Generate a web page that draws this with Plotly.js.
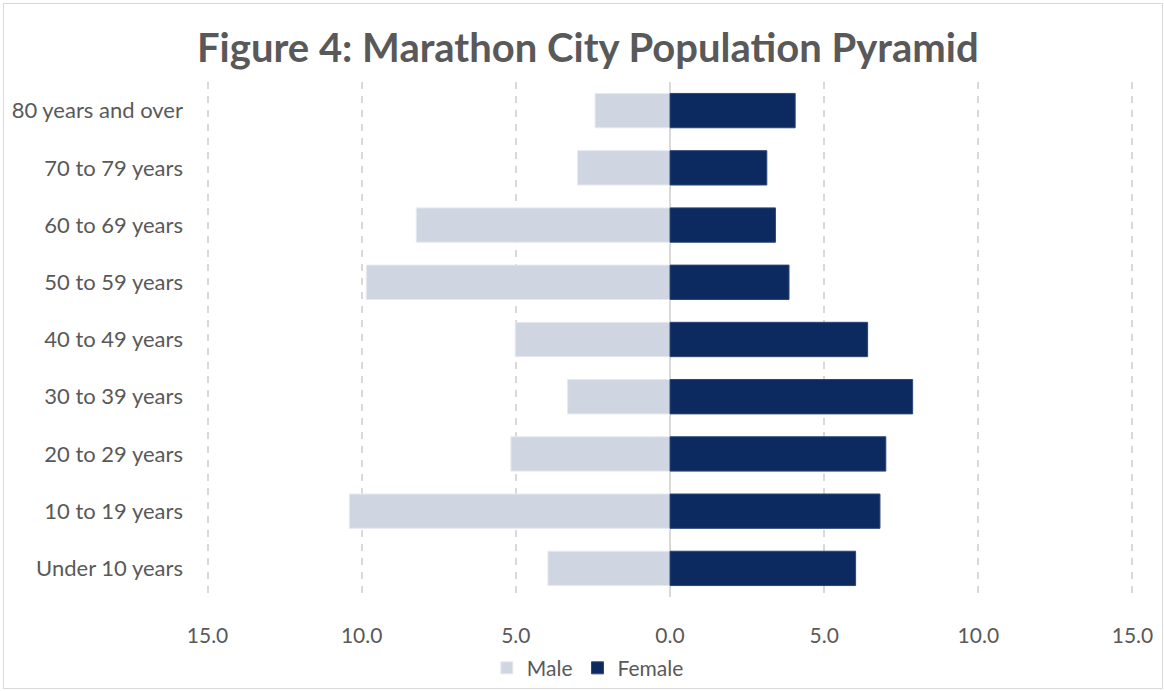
<!DOCTYPE html>
<html>
<head>
<meta charset="utf-8">
<script src="https://cdn.plot.ly/plotly-3.0.1.min.js"></script>
<style>
  html, body { margin: 0; padding: 0; background: #fff; }
  #wrap { position: absolute; left: 3px; top: 3px; width: 1160px; height: 686px; border: 1px solid #d9d9d9; box-sizing: border-box; }
  #chart { position: absolute; left: 0; top: 0; width: 1164px; height: 691px; }
</style>
</head>
<body>
<div id="wrap"></div>
<div id="chart"></div>
<script>
const categories = ["Under 10 years", "10 to 19 years", "20 to 29 years", "30 to 39 years",
  "40 to 49 years", "50 to 59 years", "60 to 69 years", "70 to 79 years", "80 years and over"];
const maleValues = [3.96, 10.40, 5.16, 3.32, 5.02, 9.85, 8.23, 3.00, 2.43];
const femaleValues = [6.02, 6.81, 7.00, 7.87, 6.41, 3.86, 3.42, 3.14, 4.06];
const tickValues = [-15, -10, -5, 0, 5, 10, 15];
const tickLabels = ["15.0", "10.0", "5.0", "0.0", "5.0", "10.0", "15.0"];

const FONT = "Lato, 'Open Sans', sans-serif";
const GREY = "#595959";

const traces = [
  {
    type: "bar", orientation: "h", name: "Male",
    y: categories, x: maleValues.map(v => -v),
    marker: { color: "#cfd5e1", line: { color: "#e6e9ef", width: 1 } },
    hovertemplate: "%{y}: %{customdata:.1f}<extra>Male</extra>",
    customdata: maleValues
  },
  {
    type: "bar", orientation: "h", name: "Female",
    y: categories, x: femaleValues,
    marker: { color: "#0c2a5f", line: { color: "#2c4677", width: 1 } },
    hovertemplate: "%{y}: %{x:.1f}<extra>Female</extra>"
  }
];

const layout = {
  width: 1164, height: 691,
  paper_bgcolor: "rgba(0,0,0,0)", plot_bgcolor: "rgba(0,0,0,0)",
  margin: { l: 205.5, r: 29.5, t: 82, b: 94, autoexpand: false },
  barmode: "relative", bargap: 0.4,
  font: { family: FONT, color: GREY, size: 20 },
  title: {
    text: "<b>Figure 4: Marathon City Population Pyramid</b>",
    font: { family: FONT, size: 40, color: GREY },
    x: 0.505, xanchor: "center", xref: "container", y: 0.93, yref: "container", yanchor: "middle"
  },
  xaxis: {
    range: [-15.05, 15.05], tickvals: tickValues, ticktext: tickLabels,
    showgrid: true, gridcolor: "#d9d9d9", griddash: "7px,7px", gridwidth: 2,
    zeroline: true, zerolinecolor: "#d9d9d9", zerolinewidth: 2,
    showline: false, ticks: "", ticklabelstandoff: 24,
    tickfont: { family: FONT, size: 21, color: GREY }, fixedrange: true
  },
  yaxis: {
    type: "category", categoryorder: "array", categoryarray: categories,
    showgrid: false, zeroline: false, showline: false, ticks: "",
    ticklabelstandoff: 22,
    tickfont: { family: FONT, size: 22, color: GREY }, fixedrange: true
  },
  showlegend: true,
  legend: {
    orientation: "h", xref: "container", yref: "container",
    x: 0.505, xanchor: "center", y: 0.033, yanchor: "middle",
    font: { family: FONT, size: 21, color: GREY },
    itemwidth: 30, traceorder: "normal"
  }
};

Plotly.newPlot("chart", traces, layout, { displayModeBar: false, staticPlot: true });
</script>
</body>
</html>
